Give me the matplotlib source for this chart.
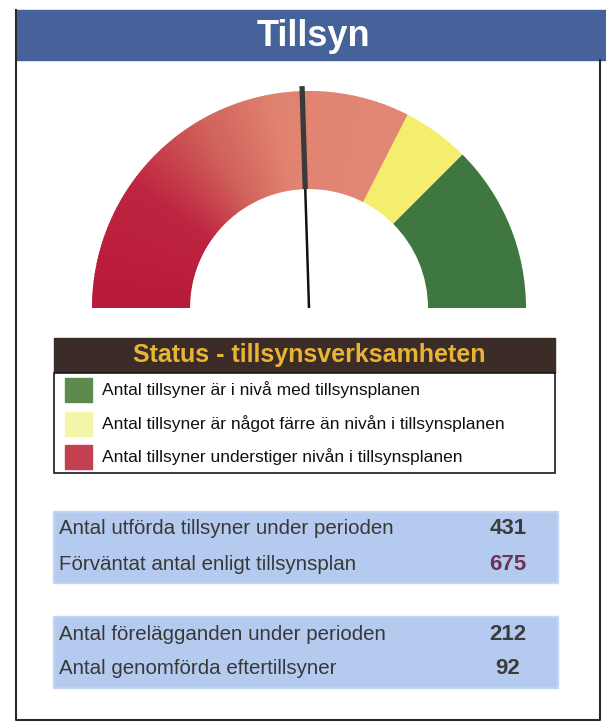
import numpy as np
import matplotlib
matplotlib.use("Agg")
import matplotlib.pyplot as plt
from matplotlib.patches import Wedge, Rectangle

plt.rcParams['font.family'] = ['Liberation Sans', 'DejaVu Sans']

# --- data ---
title = "Tillsyn"
# gauge: 0 = left end, 1 = right end
gauge_bounds = [0.0, 0.65, 0.75, 1.0]
gauge_needle = 0.49
legend_title = "Status - tillsynsverksamheten"
legend_labels = [
    "Antal tillsyner är i nivå med tillsynsplanen",
    "Antal tillsyner är något färre än nivån i tillsynsplanen",
    "Antal tillsyner understiger nivån i tillsynsplanen",
]
legend_colors = ["#5f8a4f", "#f3f6a8", "#c2404f"]
box1_labels = ["Antal utförda tillsyner under perioden", "Förväntat antal enligt tillsynsplan"]
box1_values = [431, 675]
box2_labels = ["Antal förelägganden under perioden", "Antal genomförda eftertillsyner"]
box2_values = [212, 92]

W, H = 606, 728
fig = plt.figure(figsize=(W / 100, H / 100), dpi=100)
ax = fig.add_axes([0, 0, 1, 1])
ax.set_xlim(0, W)
ax.set_ylim(H, 0)
ax.axis("off")

# frame + title bar
ax.plot([16, 16, 600, 600], [10, 720, 720, 60], color="#2a2a2a", lw=1.5)
ax.add_patch(Rectangle((17, 10), W - 17, 50, color="#45639a"))
ax.text(313, 37, title, color="white", fontsize=26, fontweight="bold",
        ha="center", va="center")

# gauge
cx, cy, r_out, r_in = 309, 308, 217, 119


def ang(v):
    # value 0..1 -> wedge angle in the inverted-y axes
    return 180 * v - 180


# red section with a colour gradient (screen angle 180 -> 60)
red_anchor_a = [60, 100, 120, 145, 180]
red_anchor_c = np.array([[226, 136, 118], [224, 130, 112], [208, 98, 90],
                         [190, 36, 64], [184, 26, 58]]) / 255
n = 120
edges = np.linspace(gauge_bounds[0], gauge_bounds[1], n + 1)
for a, b in zip(edges[:-1], edges[1:]):
    mid = 180 - 180 * (a + b) / 2
    col = [np.interp(mid, red_anchor_a, red_anchor_c[:, k]) for k in range(3)]
    ax.add_patch(Wedge((cx, cy), r_out, ang(a), ang(b) + 0.4,
                       width=r_out - r_in, facecolor=col, edgecolor="none"))
ax.add_patch(Wedge((cx, cy), r_out, ang(gauge_bounds[1]), ang(gauge_bounds[2]),
                   width=r_out - r_in, facecolor="#f4ed6e", edgecolor="none"))
ax.add_patch(Wedge((cx, cy), r_out, ang(gauge_bounds[2]), ang(gauge_bounds[3]),
                   width=r_out - r_in, facecolor="#3e7740", edgecolor="none"))

# needle
t = np.deg2rad(180 - 180 * gauge_needle)
ux, uy = np.cos(t), -np.sin(t)
ax.plot([cx, cx + ux * r_in], [cy, cy + uy * r_in], color="#111111", lw=1.8,
        solid_capstyle="butt")
ax.plot([cx + ux * r_in, cx + ux * (r_out + 5)], [cy + uy * r_in, cy + uy * (r_out + 5)],
        color="#3a3a3a", lw=3.8, solid_capstyle="butt")

# legend box
ax.add_patch(Rectangle((54, 338), 501, 35, color="#3c2c28"))
ax.text(309, 355, legend_title, color="#e8b434", fontsize=18, fontweight="bold",
        ha="center", va="center")
ax.add_patch(Rectangle((54, 373), 501, 100, facecolor="white", edgecolor="#1a1a1a", lw=1.2))
for i, (lab, c) in enumerate(zip(legend_labels, legend_colors)):
    y = 390 + i * 33.5
    ax.add_patch(Rectangle((65, y - 12), 27, 24, color=c))
    ax.text(102, y, lab, fontsize=12.5, color="#111111", ha="left", va="center")


# info boxes
def info_box(y0, labels, values, colors):
    ax.add_patch(Rectangle((53, y0 - 1), 505, 72, color="#c6d6f3"))
    ax.add_patch(Rectangle((55, y0 + 1), 501, 68, color="#b5caef"))
    for i, (lab, val, c) in enumerate(zip(labels, values, colors)):
        y = y0 + 17 + i * 35
        ax.text(59, y, lab, fontsize=14.8, color="#383838", ha="left", va="center")
        ax.text(508, y, str(val), fontsize=16, fontweight="bold", color=c,
                ha="center", va="center")


info_box(512, box1_labels, box1_values, ["#3c3c3c", "#6b3355"])
info_box(617, box2_labels, box2_values, ["#3c3c3c", "#3c3c3c"])

fig.savefig("out.png", dpi=100, facecolor="white")
